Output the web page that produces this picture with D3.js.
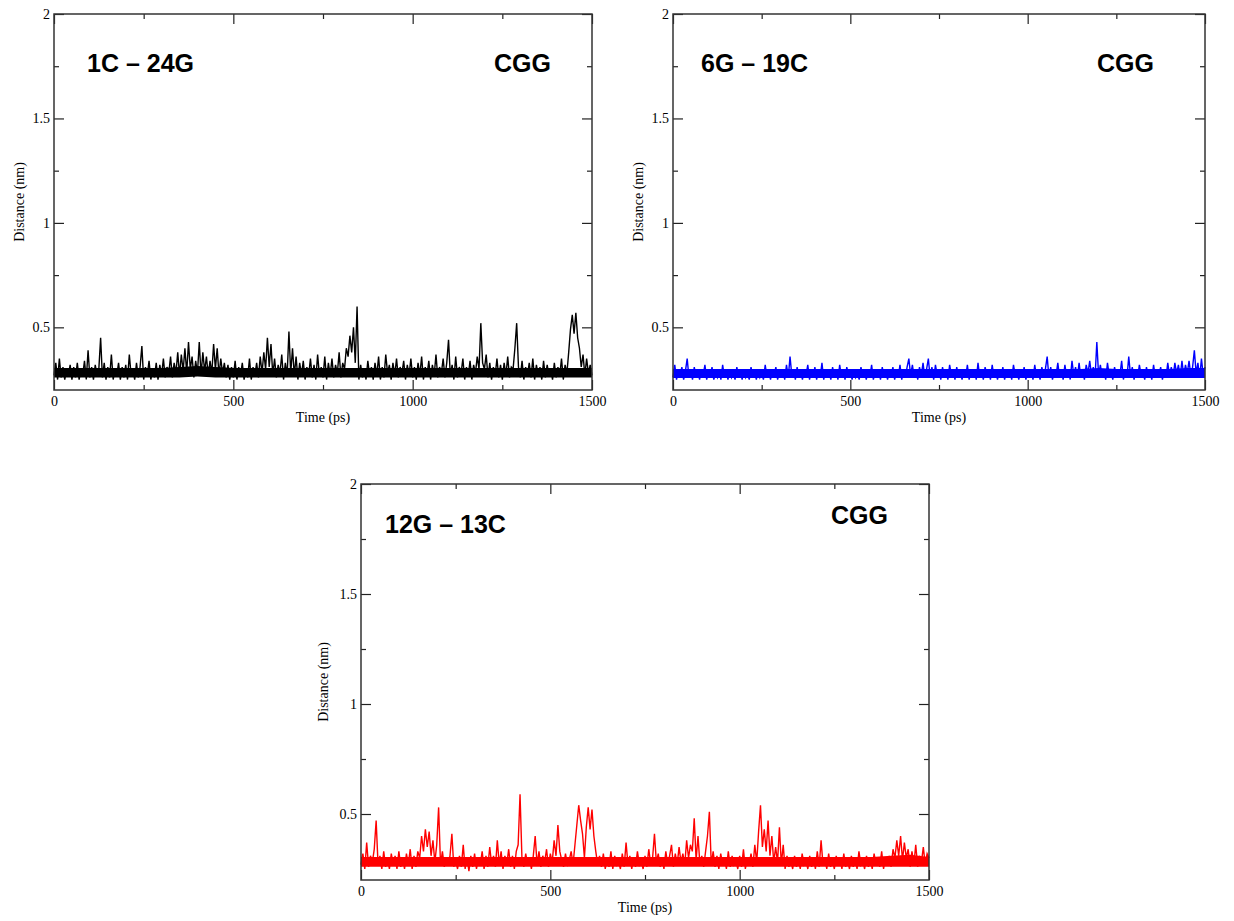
<!DOCTYPE html>
<html>
<head>
<meta charset="utf-8">
<script src="https://cdn.jsdelivr.net/npm/d3@7"></script>
<style>
    body { margin: 0; background: #fff; }
    .tick text { font-family: "Liberation Serif", "DejaVu Serif", serif; font-size: 14px; fill: #000; }
    .axis path.domain { display: none; }
    .axis line { stroke: #222; stroke-width: 1.2; }
</style>
</head>
<body>
<script>
// Distance traces, one value every 5 ps from 0 to 1500 ps,
// plus the dense core band of each trace, read every 50 ps

//Pair names and sequence label
var pairNames = ["1C \u2013 24G", "6G \u2013 19C", "12G \u2013 13C"];
var seqName = "CGG";

//Tick labels
var xTicks = [0, 500, 1000, 1500];
var xMinor = [250, 750, 1250];
var yTicks = [0.5, 1, 1.5, 2];
var yMinor = [0.75, 1.25, 1.75];

//1C - 24G (black)
var dist1 = [
    .27, .33, .25, .35, .26, .31, .25, .30, .27, .32,
    .25, .31, .26, .33, .25, .30, .27, .34, .25, .39,
    .26, .31, .25, .32, .27, .30, .45, .26, .33, .25,
    .31, .26, .37, .25, .30, .27, .33, .25, .31, .26,
    .32, .25, .37, .27, .30, .25, .33, .26, .31, .41,
    .25, .31, .27, .34, .25, .30, .26, .33, .25, .32,
    .27, .35, .26, .31, .28, .36, .26, .33, .28, .38,
    .27, .37, .29, .40, .28, .43, .30, .36, .26, .34,
    .28, .43, .27, .38, .29, .36, .27, .34, .28, .42,
    .30, .40, .27, .35, .28, .33, .26, .32, .25, .31,
    .26, .34, .25, .31, .27, .33, .25, .30, .26, .35,
    .25, .31, .27, .33, .26, .36, .28, .38, .30, .45,
    .31, .42, .27, .35, .26, .32, .28, .37, .25, .33,
    .27, .48, .28, .40, .27, .36, .25, .33, .27, .34,
    .25, .31, .27, .35, .26, .32, .25, .37, .27, .31,
    .26, .36, .25, .33, .27, .35, .26, .32, .28, .38,
    .26, .33, .30, .40, .36, .46, .38, .50, .33, .60,
    .25, .32, .26, .30, .25, .34, .27, .31, .25, .33,
    .27, .36, .25, .31, .26, .37, .28, .32, .25, .33,
    .27, .35, .26, .31, .28, .34, .25, .32, .27, .35,
    .26, .31, .25, .33, .27, .36, .25, .31, .27, .34,
    .25, .32, .27, .37, .26, .31, .28, .35, .26, .33,
    .44, .27, .32, .25, .36, .26, .31, .28, .35, .25,
    .31, .27, .34, .25, .32, .28, .36, .30, .52, .33,
    .30, .37, .26, .33, .25, .31, .27, .35, .26, .32,
    .25, .33, .27, .36, .26, .31, .30, .40, .52, .31,
    .26, .34, .25, .31, .27, .33, .26, .35, .25, .32,
    .27, .31, .25, .34, .26, .32, .27, .30, .25, .33,
    .26, .31, .27, .35, .25, .32, .28, .38, .49, .56,
    .47, .57, .45, .40, .31, .37, .27, .35, .28, .32,
    .27
];
var band1Lo = [.26, .26, .26, .26, .26, .26, .26, .26, .265, .26, .26,
    .26, .26, .26, .26, .26, .26, .26, .26, .26, .26,
    .26, .26, .26, .26, .26, .26, .26, .26, .26, .26];
var band1Hi = [.305, .305, .305, .305, .305, .305, .305, .31, .315, .31, .305,
    .305, .305, .305, .305, .305, .305, .305, .305, .305, .305,
    .305, .305, .305, .305, .305, .305, .305, .305, .305, .305];

//6G - 19C (blue)
var dist2 = [
    .26, .32, .25, .30, .27, .31, .25, .29, .35, .26,
    .30, .25, .31, .26, .29, .25, .30, .27, .32, .25,
    .29, .26, .31, .25, .28, .26, .30, .25, .32, .26,
    .29, .25, .30, .26, .28, .25, .31, .26, .29, .25,
    .30, .26, .28, .25, .31, .26, .29, .25, .30, .26,
    .28, .25, .32, .26, .29, .25, .30, .27, .31, .25,
    .29, .26, .30, .25, .32, .26, .36, .27, .30, .25,
    .31, .26, .29, .25, .30, .27, .32, .25, .29, .26,
    .31, .25, .30, .26, .33, .25, .30, .27, .29, .25,
    .31, .26, .29, .25, .32, .26, .30, .25, .31, .27,
    .29, .25, .30, .26, .28, .25, .31, .26, .29, .25,
    .30, .26, .32, .25, .29, .27, .30, .25, .31, .26,
    .29, .25, .30, .27, .31, .25, .29, .26, .32, .25,
    .30, .26, .31, .35, .27, .32, .26, .30, .25, .31,
    .27, .33, .26, .30, .35, .26, .31, .25, .32, .27,
    .30, .25, .31, .26, .29, .25, .32, .27, .30, .25,
    .31, .26, .29, .25, .30, .26, .32, .25, .29, .27,
    .30, .25, .33, .26, .29, .25, .31, .27, .30, .25,
    .32, .26, .29, .25, .30, .26, .31, .25, .29, .26,
    .30, .25, .32, .27, .29, .25, .30, .26, .31, .25,
    .29, .26, .30, .25, .32, .26, .29, .25, .31, .27,
    .30, .36, .26, .31, .25, .29, .27, .33, .26, .30,
    .25, .32, .26, .30, .25, .34, .27, .31, .26, .33,
    .26, .30, .25, .32, .28, .34, .27, .31, .26, .43,
    .27, .32, .26, .30, .25, .33, .27, .29, .25, .31,
    .26, .30, .27, .34, .25, .30, .26, .36, .27, .31,
    .25, .30, .26, .32, .27, .29, .25, .31, .26, .30,
    .25, .32, .26, .29, .27, .31, .25, .30, .26, .33,
    .27, .31, .26, .33, .28, .32, .26, .34, .27, .32,
    .28, .34, .27, .31, .39, .28, .33, .26, .35, .27,
    .31
];
var band2Lo = [.258, .258, .258, .258, .258, .258, .258, .258, .258, .258, .258,
    .258, .258, .258, .258, .258, .258, .258, .258, .258, .258,
    .258, .258, .258, .258, .258, .258, .258, .258, .258, .258];
var band2Hi = [.30, .30, .30, .30, .30, .30, .30, .30, .30, .30, .30,
    .30, .30, .30, .30, .30, .30, .30, .30, .30, .30,
    .30, .30, .30, .305, .30, .30, .30, .30, .305, .305];

//12G - 13C (red)
var dist3 = [
    .27, .32, .25, .37, .26, .31, .28, .34, .47, .27,
    .31, .25, .33, .26, .30, .25, .32, .27, .31, .25,
    .33, .26, .30, .25, .32, .27, .34, .25, .31, .26,
    .33, .30, .40, .33, .43, .35, .42, .31, .38, .28,
    .36, .53, .27, .33, .26, .30, .27, .31, .41, .26,
    .29, .25, .31, .26, .36, .25, .30, .24, .31, .26,
    .32, .25, .30, .27, .33, .25, .31, .26, .35, .27,
    .31, .26, .38, .27, .33, .25, .31, .27, .34, .26,
    .31, .25, .33, .36, .59, .30, .26, .32, .27, .30,
    .25, .31, .40, .27, .33, .26, .31, .28, .34, .26,
    .32, .28, .38, .31, .45, .33, .29, .26, .32, .27,
    .29, .33, .27, .36, .45, .54, .47, .41, .30, .44,
    .53, .43, .52, .40, .33, .27, .31, .26, .32, .25,
    .30, .26, .33, .25, .31, .27, .29, .25, .32, .26,
    .37, .27, .31, .25, .30, .26, .33, .27, .29, .25,
    .31, .26, .34, .27, .30, .41, .28, .32, .26, .30,
    .25, .33, .27, .31, .36, .26, .32, .27, .35, .28,
    .32, .27, .38, .30, .36, .33, .48, .29, .40, .27,
    .31, .26, .33, .40, .51, .27, .33, .26, .31, .25,
    .32, .27, .30, .25, .33, .26, .31, .27, .29, .25,
    .31, .26, .34, .25, .30, .27, .32, .26, .36, .28,
    .42, .54, .35, .43, .33, .47, .31, .40, .28, .35,
    .28, .44, .27, .36, .25, .31, .26, .29, .25, .31,
    .26, .30, .25, .32, .27, .29, .25, .31, .26, .30,
    .25, .33, .26, .38, .27, .30, .25, .32, .26, .29,
    .25, .31, .27, .30, .25, .32, .26, .29, .25, .31,
    .26, .30, .25, .33, .27, .29, .25, .31, .26, .30,
    .25, .32, .27, .30, .26, .33, .25, .30, .27, .31,
    .26, .34, .30, .38, .31, .40, .29, .37, .30, .34,
    .26, .33, .27, .36, .26, .31, .28, .35, .27, .32,
    .30
];
var band3Lo = [.26, .26, .26, .26, .26, .26, .26, .26, .26, .26, .26,
    .26, .26, .26, .26, .26, .26, .26, .26, .26, .26,
    .26, .26, .26, .26, .26, .26, .26, .26, .26, .26];
var band3Hi = [.305, .305, .305, .305, .305, .305, .305, .305, .305, .305, .305,
    .305, .305, .305, .305, .305, .305, .305, .305, .305, .305,
    .305, .305, .305, .305, .305, .305, .305, .31, .315, .305];

//Width and height
var w = 1234;
var h = 921;

//Panel boxes and styles
var panels = [
    { data: dist1, lo: band1Lo, hi: band1Hi, color: "#000000", left: 54, right: 592, top: 14, bottom: 390,
      name: pairNames[0], nameX: 87, seqX: 494, labelY: 72, seqY: 72, ylabX: 19 },
    { data: dist2, lo: band2Lo, hi: band2Hi, color: "#0000ff", left: 673, right: 1205, top: 14, bottom: 390,
      name: pairNames[1], nameX: 701, seqX: 1097, labelY: 72, seqY: 72, ylabX: 638 },
    { data: dist3, lo: band3Lo, hi: band3Hi, color: "#ff0000", left: 361, right: 929, top: 484, bottom: 880,
      name: pairNames[2], nameX: 385, seqX: 831, labelY: 533, seqY: 524, ylabX: 323 }
];

//Create SVG element
var svg = d3.select("body")
    .append("svg")
    .attr("width", w)
    .attr("height", h);

panels.forEach(function (p) {

    var x = d3.scaleLinear().domain([0, 1500]).range([p.left, p.right]);
    var y = d3.scaleLinear().domain([0.2, 2]).range([p.bottom, p.top]);

    var g = svg.append("g");

    //Dense core band of the trace
    var area = d3.area()
        .x(function (d, i) { return x(i * 50); })
        .y0(function (d, i) { return y(p.lo[i]); })
        .y1(function (d) { return y(d); });

    g.append("path")
        .datum(p.hi)
        .attr("d", area)
        .style("fill", p.color)
        .style("stroke", "none");

    //Trace
    var line = d3.line()
        .x(function (d, i) { return x(i * 5); })
        .y(function (d) { return y(d); });

    g.append("path")
        .datum(p.data)
        .attr("d", line)
        .style("fill", "none")
        .style("stroke", p.color)
        .style("stroke-width", 1.4)
        .style("stroke-linejoin", "miter");

    //Major and minor ticks, all pointing inward
    g.append("g").attr("class", "axis")
        .attr("transform", "translate(0," + p.bottom + ")")
        .call(d3.axisBottom(x).tickValues(xTicks).tickSize(-10).tickPadding(6).tickFormat(d3.format("d")));
    g.append("g").attr("class", "axis")
        .attr("transform", "translate(0," + p.bottom + ")")
        .call(d3.axisBottom(x).tickValues(xMinor).tickSize(-5).tickFormat(""));
    g.append("g").attr("class", "axis")
        .attr("transform", "translate(0," + p.top + ")")
        .call(d3.axisTop(x).tickValues(xTicks).tickSize(-10).tickFormat(""));
    g.append("g").attr("class", "axis")
        .attr("transform", "translate(0," + p.top + ")")
        .call(d3.axisTop(x).tickValues(xMinor).tickSize(-5).tickFormat(""));

    g.append("g").attr("class", "axis")
        .attr("transform", "translate(" + p.left + ",0)")
        .call(d3.axisLeft(y).tickValues(yTicks).tickSize(-10).tickPadding(4).tickFormat(d3.format("")));
    g.append("g").attr("class", "axis")
        .attr("transform", "translate(" + p.left + ",0)")
        .call(d3.axisLeft(y).tickValues(yMinor).tickSize(-5).tickFormat(""));
    g.append("g").attr("class", "axis")
        .attr("transform", "translate(" + p.right + ",0)")
        .call(d3.axisRight(y).tickValues(yTicks).tickSize(-10).tickFormat(""));
    g.append("g").attr("class", "axis")
        .attr("transform", "translate(" + p.right + ",0)")
        .call(d3.axisRight(y).tickValues(yMinor).tickSize(-5).tickFormat(""));

    //Frame
    g.append("rect")
        .attr("x", p.left)
        .attr("y", p.top)
        .attr("width", p.right - p.left)
        .attr("height", p.bottom - p.top)
        .style("fill", "none")
        .style("stroke", "#333")
        .style("stroke-width", 1.5);

    //Axis titles
    g.append("text")
        .attr("x", (p.left + p.right) / 2)
        .attr("y", p.bottom + 32)
        .attr("text-anchor", "middle")
        .style("font-family", "Liberation Serif, serif")
        .style("font-size", "14px")
        .text("Time (ps)");

    g.append("text")
        .attr("transform", "translate(" + p.ylabX + "," + ((p.top + p.bottom) / 2) + ") rotate(-90)")
        .attr("text-anchor", "middle")
        .attr("dy", "0.35em")
        .style("font-family", "Liberation Serif, serif")
        .style("font-size", "14px")
        .text("Distance (nm)");

    //Pair and sequence labels
    g.append("text")
        .attr("x", p.nameX)
        .attr("y", p.labelY)
        .style("font-family", "Liberation Sans, Arial, sans-serif")
        .style("font-weight", "bold")
        .style("font-size", "25px")
        .text(p.name);

    g.append("text")
        .attr("x", p.seqX)
        .attr("y", p.seqY)
        .style("font-family", "Liberation Sans, Arial, sans-serif")
        .style("font-weight", "bold")
        .style("font-size", "25px")
        .text(seqName);
});
</script>
</body>
</html>
